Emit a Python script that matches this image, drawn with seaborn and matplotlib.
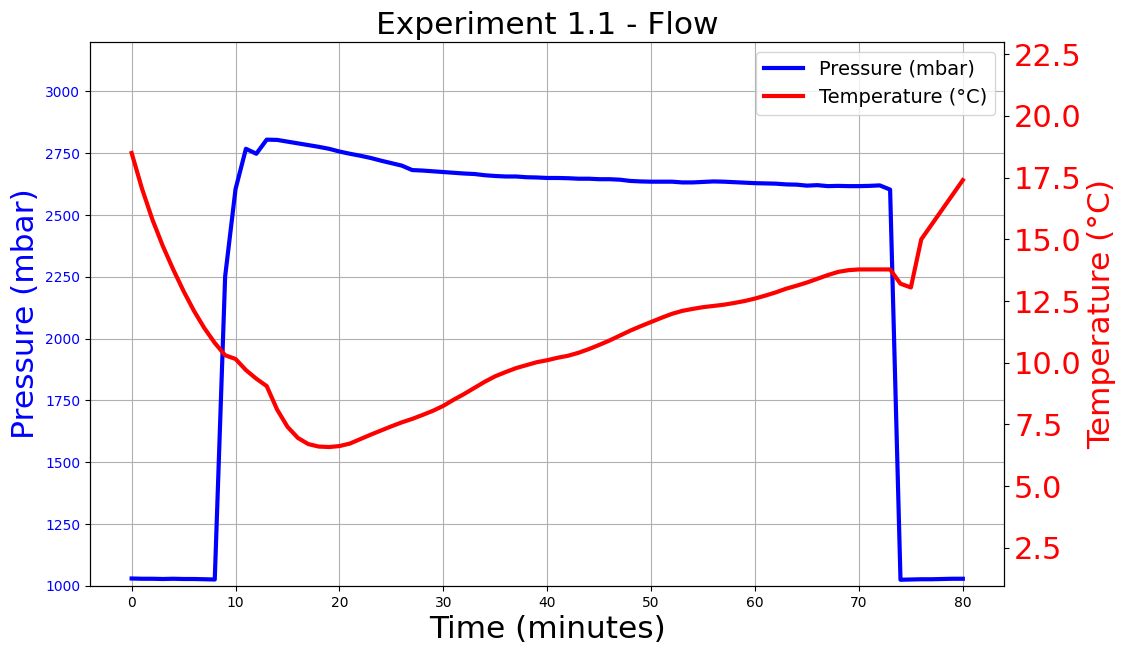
import pandas as pd
import matplotlib
matplotlib.use('Agg')
import matplotlib.pyplot as plt
from matplotlib.ticker import MultipleLocator
import seaborn as sns

# Experiment 1.1 - flow run, one reading per minute
minutes = list(range(0, 81))

pressure_mbar = [
    1030, 1029, 1029, 1028, 1029, 1028, 1028, 1027, 1026, 2252,
    2605, 2768, 2748, 2805, 2804, 2797, 2790, 2783, 2776, 2768,
    2757, 2748, 2740, 2731, 2720, 2710, 2700, 2682, 2680, 2677,
    2674, 2671, 2668, 2666, 2661, 2658, 2656, 2656, 2653, 2652,
    2650, 2650, 2649, 2647, 2647, 2645, 2645, 2643, 2638, 2636,
    2635, 2635, 2635, 2632, 2632, 2634, 2636, 2635, 2633, 2631,
    2629, 2628, 2627, 2624, 2623, 2619, 2621, 2617, 2618, 2617,
    2617, 2618, 2620, 2603, 1025, 1026, 1027, 1027, 1028, 1029,
    1029,
]

temperature_c = [
    18.5, 17.05, 15.8, 14.73, 13.78, 12.9, 12.1, 11.4, 10.8, 10.3,
    10.15, 9.7, 9.35, 9.05, 8.1, 7.4, 6.95, 6.7, 6.6, 6.58,
    6.62, 6.72, 6.9, 7.08, 7.25, 7.42, 7.58, 7.72, 7.88, 8.05,
    8.25, 8.5, 8.73, 8.98, 9.23, 9.45, 9.62, 9.78, 9.9, 10.02,
    10.1, 10.2, 10.28, 10.4, 10.55, 10.72, 10.9, 11.1, 11.3, 11.48,
    11.65, 11.82, 11.98, 12.1, 12.18, 12.25, 12.3, 12.35, 12.42, 12.5,
    12.6, 12.72, 12.85, 13.0, 13.12, 13.25, 13.4, 13.55, 13.68, 13.75,
    13.78, 13.78, 13.78, 13.78, 13.2, 13.05, 15.0, 15.6, 16.2, 16.8,
    17.4,
]

data = pd.DataFrame({
    'time': minutes,
    'pressure': pressure_mbar,
    'temperature': temperature_c,
})

fig, ax1 = plt.subplots(figsize=(11.26, 6.46), dpi=100)
fig.subplots_adjust(left=0.080, right=0.892, top=0.935, bottom=0.093)

# pressure on the left axis
sns.lineplot(data=data, x='time', y='pressure', ax=ax1, color='blue',
             linewidth=3, label='Pressure (mbar)', legend=False)
ax1.set_xlabel('Time (minutes)', fontsize=22.5)
ax1.set_ylabel('Pressure (mbar)', fontsize=22.5, color='blue')
ax1.tick_params(axis='y', labelcolor='blue')
ax1.set_ylim(1000, 3200)
ax1.set_xlim(-4, 84)
ax1.grid(True)

# temperature on the right axis
ax2 = ax1.twinx()
sns.lineplot(data=data, x='time', y='temperature', ax=ax2, color='red',
             linewidth=3, label='Temperature (°C)', legend=False)
ax2.set_ylabel('Temperature (°C)', fontsize=22.5, color='red')
ax2.tick_params(axis='y', labelcolor='red', labelsize=22)
ax2.set_ylim(0.95, 23.0)
ax2.yaxis.set_major_locator(MultipleLocator(2.5))

# one legend for both lines
h1, l1 = ax1.get_legend_handles_labels()
h2, l2 = ax2.get_legend_handles_labels()
ax2.legend(h1 + h2, l1 + l2, loc='upper right', fontsize=14)

plt.title('Experiment 1.1 - Flow', fontsize=22.5)

plt.savefig('out.png')
